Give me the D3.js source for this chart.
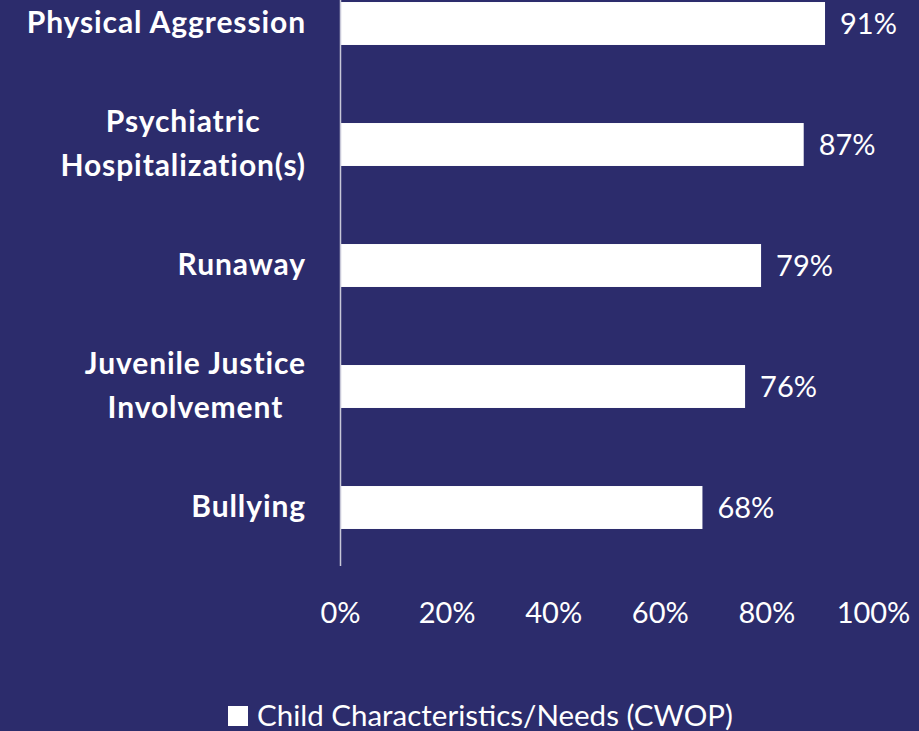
<!DOCTYPE html>
<html><head><meta charset="utf-8">
<script src="https://cdn.jsdelivr.net/npm/d3@7"></script>
<style>
html,body{margin:0;padding:0;background:#2c2c6c;}
svg{display:block;}
text{font-family:Lato,"Noto Sans",sans-serif;fill:#fff;}
</style></head>
<body>
<svg id="chart" width="919" height="731"></svg>
<script>
const categories = [["Physical Aggression"], ["Psychiatric", "Hospitalization(s)"], ["Runaway"], ["Juvenile Justice", "Involvement"], ["Bullying"]];
const values = [91, 87, 79, 76, 68];
const tickValues = [0, 20, 40, 60, 80, 100];
const seriesName = "Child Characteristics/Needs (CWOP)";

const W = 919, H = 731;
const svg = d3.select("#chart");
svg.append("rect").attr("width", W).attr("height", H).attr("fill", "#2c2c6c");

const keys = categories.map(c => c.join(" "));
const x = d3.scaleLinear().domain([0, 100]).range([340, 873]);
const y = d3.scaleBand().domain(keys).range([-37, 568]).paddingInner(0.645).paddingOuter(0.3225);

// bars
svg.selectAll("rect.bar").data(values).join("rect")
  .attr("class", "bar")
  .attr("x", x(0))
  .attr("y", (d, i) => y(keys[i]))
  .attr("width", d => x(d) - x(0))
  .attr("height", y.bandwidth())
  .attr("fill", "#ffffff");

// axis line
svg.append("line").attr("x1", x(0) + 0.5).attr("x2", x(0) + 0.5)
  .attr("y1", -5).attr("y2", 566).attr("stroke", "#c8c8d8").attr("stroke-width", 1.5);

// value labels
svg.selectAll("text.val").data(values).join("text")
  .attr("class", "val")
  .attr("x", d => x(d) + 15)
  .attr("y", (d, i) => y(keys[i]) + y.bandwidth() / 2)
  .attr("dy", "0.35em")
  .style("font-size", "29px")
  .text(d => d + "%");

// category labels
const labelX = 306;
categories.forEach((lines, i) => {
  const cy = y(keys[i]) + y.bandwidth() / 2;
  const g = svg.append("text").style("font-size", "30px").style("font-weight", "700").style("letter-spacing", "0.9px");
  const lh = 44;
  const n = lines.length;
  lines.forEach((ln, j) => {
    g.append("tspan").attr("y", cy + (j - (n - 1) / 2) * lh).attr("dy", "0.33em").text(ln);
  });
  const tspans = g.selectAll("tspan").nodes();
  const widths = tspans.map(t => t.getComputedTextLength());
  const maxW = d3.max(widths);
  const center = labelX - maxW / 2;
  tspans.forEach(t => d3.select(t).attr("x", center).attr("text-anchor", "middle"));
});

// x axis tick labels
const axis = d3.axisBottom(x).tickValues(tickValues).tickFormat(d => d + "%").tickSize(0).tickPadding(0);
const ag = svg.append("g").attr("transform", "translate(0,602)").call(axis);
ag.select(".domain").remove();
ag.selectAll("text").style("font-size", "29px").style("font-family", "Lato, 'Noto Sans', sans-serif").attr("fill", "#fff");

// legend
svg.append("rect").attr("x", 228).attr("y", 706).attr("width", 20).attr("height", 20).attr("fill", "#fff");
svg.append("text").attr("x", 257).attr("y", 716).attr("dy", "0.35em").style("font-size", "29.5px").text(seriesName);
</script>
</body></html>
